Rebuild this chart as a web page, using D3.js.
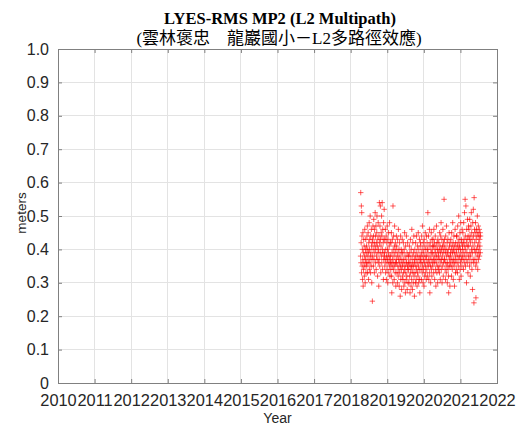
<!DOCTYPE html>
<html><head><meta charset="utf-8">
<script src="https://cdn.jsdelivr.net/npm/d3@7"></script>
<style>body{margin:0;background:#fff}svg{display:block}</style>
</head><body>
<script>
// ---- data ----
const titleLine1 = "LYES-RMS MP2 (L2 Multipath)";
const titleLine2 = "(雲林褒忠　龍巖國小－L2多路徑效應)";
const xTickYears = [2010,2011,2012,2013,2014,2015,2016,2017,2018,2019,2020,2021,2022];
const yTickValues = [0,0.1,0.2,0.3,0.4,0.5,0.6,0.7,0.8,0.9,1.0];
const sampleStartYear = 2018.27;   // first observation (decimal year)
const sampleStepDays = 2;          // one value every 2 days
const mp2Values = [
0.38,0.57,0.36,0.42,0.53,0.33,0.51,0.44,0.35,0.40,0.31,0.37,0.45,0.29,0.39,0.34,0.43,0.36,0.41,0.32,0.38,0.46,0.35,0.30,0.40,0.37,0.43,0.33,0.39,0.36,
0.41,0.35,0.44,0.38,0.47,0.33,0.40,0.36,0.45,0.39,0.31,0.42,0.37,0.48,0.34,0.40,0.43,0.36,0.50,0.38,0.33,0.44,0.39,0.35,0.46,0.41,0.30,0.37,0.42,0.245,
0.43,0.38,0.47,0.40,0.35,0.44,0.49,0.37,0.42,0.33,0.46,0.39,0.41,0.51,0.36,0.44,0.40,0.47,0.34,0.42,0.38,0.45,0.50,0.37,0.41,0.32,0.43,0.39,0.48,0.36,
0.40,0.29,0.44,0.37,0.54,0.42,0.35,0.47,0.39,0.53,0.43,0.33,0.41,0.45,0.38,0.50,0.36,0.44,0.54,0.40,0.34,0.46,0.39,0.42,0.31,0.48,0.37,0.43,0.52,0.38,
0.39,0.35,0.43,0.37,0.46,0.33,0.40,0.36,0.44,0.31,0.38,0.42,0.34,0.47,0.37,0.40,0.30,0.43,0.36,0.39,0.45,0.33,0.38,0.41,0.35,0.48,0.37,0.32,0.42,0.36,
0.38,0.34,0.42,0.36,0.45,0.32,0.27,0.39,0.35,0.43,0.37,0.30,0.53,0.40,0.34,0.44,0.36,0.38,0.31,0.41,0.47,0.35,0.39,0.33,0.42,0.36,0.29,0.40,0.37,0.44,
0.36,0.41,0.33,0.38,0.30,0.43,0.35,0.39,0.32,0.46,0.37,0.34,0.40,0.29,0.36,0.42,0.33,0.38,0.26,0.35,0.44,0.31,0.37,0.40,0.34,0.28,0.39,0.36,0.43,0.32,
0.35,0.39,0.31,0.37,0.42,0.33,0.29,0.36,0.40,0.34,0.45,0.30,0.38,0.35,0.27,0.41,0.33,0.37,0.31,0.44,0.36,0.32,0.39,0.28,0.35,0.42,0.34,0.30,0.38,0.36,
0.34,0.38,0.30,0.36,0.41,0.32,0.39,0.27,0.35,0.43,0.33,0.37,0.29,0.40,0.35,0.31,0.46,0.34,0.38,0.28,0.36,0.42,0.33,0.30,0.39,0.35,0.44,0.32,0.37,0.26,
0.36,0.40,0.33,0.38,0.30,0.42,0.35,0.37,0.31,0.44,0.34,0.39,0.29,0.36,0.41,0.33,0.38,0.32,0.45,0.35,0.30,0.40,0.37,0.34,0.43,0.31,0.27,0.38,0.36,0.42,
0.37,0.41,0.34,0.39,0.31,0.44,0.36,0.38,0.33,0.47,0.35,0.40,0.30,0.42,0.37,0.34,0.39,0.29,0.43,0.36,0.32,0.41,0.38,0.45,0.35,0.33,0.40,0.37,0.31,0.44,
0.38,0.34,0.42,0.36,0.40,0.32,0.51,0.39,0.35,0.44,0.37,0.31,0.41,0.36,0.46,0.33,0.27,0.38,0.42,0.35,0.30,0.40,0.37,0.45,0.34,0.39,0.32,0.43,0.36,0.41,
0.39,0.35,0.43,0.37,0.41,0.33,0.46,0.38,0.36,0.42,0.31,0.40,0.37,0.44,0.34,0.39,0.29,0.41,0.36,0.47,0.38,0.33,0.42,0.35,0.40,0.30,0.43,0.37,0.39,0.34,
0.38,0.42,0.35,0.40,0.33,0.45,0.37,0.41,0.31,0.39,0.44,0.36,0.48,0.34,0.40,0.37,0.43,0.30,0.38,0.41,0.35,0.46,0.39,0.32,0.42,0.36,0.40,0.55,0.37,0.43,
0.37,0.41,0.34,0.39,0.31,0.44,0.36,0.40,0.33,0.47,0.38,0.35,0.42,0.30,0.39,0.36,0.43,0.34,0.40,0.32,0.27,0.38,0.45,0.35,0.41,0.37,0.29,0.42,0.36,0.39,
0.38,0.43,0.35,0.40,0.32,0.45,0.37,0.41,0.34,0.39,0.48,0.36,0.42,0.31,0.40,0.37,0.44,0.35,0.39,0.29,0.41,0.36,0.46,0.38,0.33,0.42,0.37,0.40,0.34,0.44,
0.39,0.44,0.36,0.41,0.33,0.47,0.38,0.42,0.35,0.40,0.50,0.37,0.43,0.31,0.41,0.38,0.45,0.34,0.40,0.36,0.48,0.39,0.32,0.43,0.37,0.42,0.35,0.46,0.38,0.41,
0.40,0.45,0.37,0.42,0.34,0.48,0.39,0.43,0.36,0.51,0.41,0.38,0.55,0.44,0.35,0.40,0.53,0.37,0.42,0.30,0.46,0.39,0.43,0.36,0.49,0.41,0.33,0.44,0.38,0.47,
0.41,0.46,0.37,0.43,0.35,0.49,0.39,0.44,0.32,0.42,0.38,0.47,0.36,0.51,0.40,0.45,0.34,0.43,0.39,0.28,0.48,0.41,0.37,0.52,0.44,0.36,0.24,0.555,0.40,0.46,
0.42,0.37,0.45,0.39,0.48,0.35,0.255,0.43,0.40,0.46,0.36,0.44,0.38,0.50,0.41,0.34,0.45,0.39,0.47,0.37,0.42,0.44,0.40,0.46,0.38,0.43,0.41,0.45,0.39,0.44
];

// ---- chart ----
const W = 521, H = 426;
const m = {left:58, right:24, top:49, bottom:43};
const pw = W - m.left - m.right, ph = H - m.top - m.bottom;
const svg = d3.select("body").append("svg").attr("width",W).attr("height",H);

const x = d3.scaleLinear().domain([2010,2022]).range([m.left, m.left+pw]);
const y = d3.scaleLinear().domain([0,1]).range([m.top+ph, m.top]);

const axisColor = "#808080";
const gridColor = "#e3e3e3";
const tickFont = "Liberation Sans, Arial, sans-serif";

// grid
svg.append("g").selectAll("line").data(xTickYears.slice(1,-1)).join("line")
  .attr("x1",d=>x(d)).attr("x2",d=>x(d)).attr("y1",m.top).attr("y2",m.top+ph)
  .attr("stroke",gridColor).attr("stroke-width",1).attr("shape-rendering","crispEdges");
svg.append("g").selectAll("line").data(yTickValues.slice(1,-1)).join("line")
  .attr("y1",d=>y(d)).attr("y2",d=>y(d)).attr("x1",m.left).attr("x2",m.left+pw)
  .attr("stroke",gridColor).attr("stroke-width",1).attr("shape-rendering","crispEdges");

// axes with inward ticks
const tickLen = 4;
const gx = svg.append("g").attr("transform",`translate(0,${m.top+ph})`)
  .call(d3.axisBottom(x).tickValues(xTickYears).tickFormat(d3.format("d")).tickSizeInner(-tickLen).tickSizeOuter(0).tickPadding(11));
const gxt = svg.append("g").attr("transform",`translate(0,${m.top})`)
  .call(d3.axisTop(x).tickValues(xTickYears).tickFormat("").tickSizeInner(-tickLen).tickSizeOuter(0));
const gy = svg.append("g").attr("transform",`translate(${m.left},0)`)
  .call(d3.axisLeft(y).tickValues(yTickValues).tickFormat(d=>d===0?"0":d3.format(".1f")(d)).tickSizeInner(-tickLen).tickSizeOuter(0).tickPadding(9));
const gyr = svg.append("g").attr("transform",`translate(${m.left+pw},0)`)
  .call(d3.axisRight(y).tickValues(yTickValues).tickFormat("").tickSizeInner(-tickLen).tickSizeOuter(0));
[gx,gxt,gy,gyr].forEach(g=>{
  g.selectAll("path").remove();
  g.selectAll("line").attr("stroke",axisColor);
  g.selectAll("text").attr("fill","#262626").style("font-family",tickFont);
});
gx.selectAll("text").style("font-size","16.4px");
gy.selectAll("text").style("font-size","16px");
// box
svg.append("rect").attr("x",m.left+0.5).attr("y",m.top+0.5).attr("width",pw).attr("height",ph)
  .attr("fill","none").attr("stroke",axisColor).attr("stroke-width",1);

// points
const pts = mp2Values.map((v,i)=>({t: sampleStartYear + i*sampleStepDays/365.25, v}));
const s = 2.7;
svg.append("g").selectAll("path").data(pts).join("path")
  .attr("d",d=>{const cx=x(d.t), cy=y(d.v); return `M${cx-s},${cy}H${cx+s}M${cx},${cy-s}V${cy+s}`;})
  .attr("stroke","#ff0000").attr("stroke-width",0.8).attr("stroke-opacity",0.8).attr("fill","none");

// labels
svg.append("text").attr("x",m.left+pw/2).attr("y",423).attr("text-anchor","middle")
  .style("font-family",tickFont).style("font-size","14px").attr("fill","#262626").text("Year");
svg.append("text").attr("transform",`translate(26,${m.top+ph/2-3}) rotate(-90)`).attr("text-anchor","middle")
  .style("font-family",tickFont).style("font-size","13.5px").attr("fill","#262626").text("meters");

// titles
svg.append("text").attr("x",280).attr("y",24).attr("text-anchor","middle")
  .style("font-family","Liberation Serif, Times New Roman, serif").style("font-weight","bold").style("font-size","16.5px")
  .attr("fill","#000").text(titleLine1);
svg.append("text").attr("x",279).attr("y",44).attr("text-anchor","middle")
  .style("font-family","Liberation Serif, Noto Sans CJK TC, serif").style("font-size","17px")
  .attr("fill","#000").text(titleLine2);
</script>
</body></html>
